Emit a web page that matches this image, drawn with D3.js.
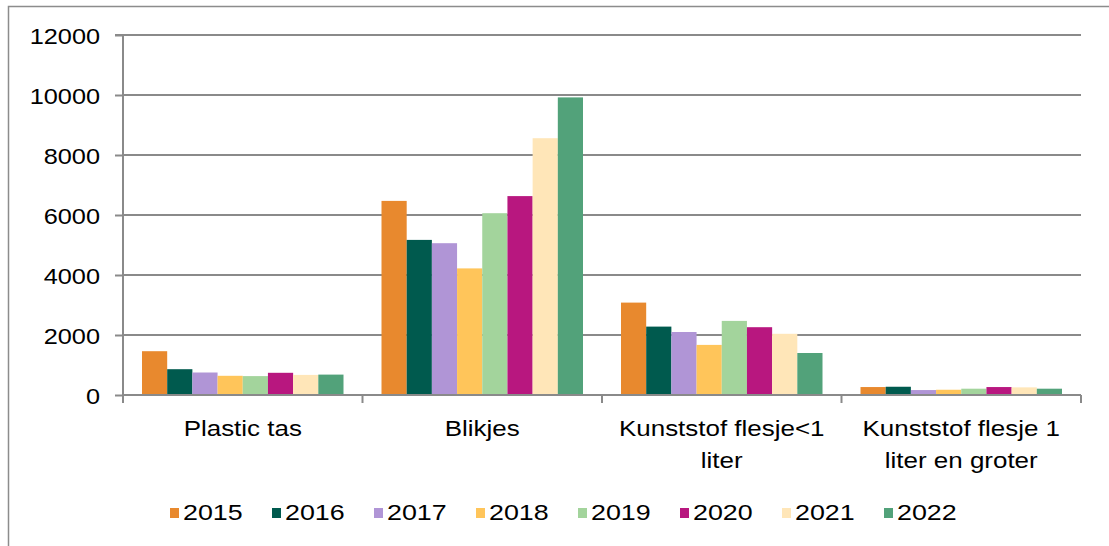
<!DOCTYPE html>
<html><head><meta charset="utf-8">
<script src="https://cdn.jsdelivr.net/npm/d3@7"></script>
<style>body{margin:0;background:#fff}svg{display:block}text{font-family:"Liberation Sans",Arial,sans-serif;fill:#000}</style>
</head><body><svg id="c" width="1109" height="546"></svg>
<script>
const categories = [["Plastic tas"], ["Blikjes"], ["Kunststof flesje<1", "liter"], ["Kunststof flesje 1", "liter en groter"]];
const years = ["2015","2016","2017","2018","2019","2020","2021","2022"];
const colors = ["#E8892E","#005A4E","#B095D6","#FFC55A","#A3D49C","#B8177F","#FFE6B8","#52A27A"];
const v2015 = [1460, 6470, 3080, 265];
const v2016 = [860, 5170, 2280, 275];
const v2017 = [750, 5060, 2100, 165];
const v2018 = [640, 4220, 1670, 175];
const v2019 = [630, 6060, 2470, 210];
const v2020 = [740, 6630, 2260, 265];
const v2021 = [670, 8560, 2040, 255];
const v2022 = [680, 9920, 1400, 210];
const series = [v2015, v2016, v2017, v2018, v2019, v2020, v2021, v2022];
const yTicks = [0, 2000, 4000, 6000, 8000, 10000, 12000];

const svg = d3.select("#c");
const L = 123, R = 1081, T = 35, B = 395;

svg.append("rect").attr("x", 8.5).attr("y", 6.5).attr("width", 1120).attr("height", 560)
  .attr("fill", "none").attr("stroke", "#8c8c8c").attr("stroke-width", 1.5);

const x0 = d3.scaleBand().domain(d3.range(categories.length)).range([L, R]);
const x1 = d3.scaleBand().domain(years).range([19, x0.bandwidth() - 19]);
const y = d3.scaleLinear().domain([0, 12000]).range([B, T]);

// gridlines
svg.append("g").selectAll("line").data(yTicks.slice(1)).join("line")
  .attr("x1", L).attr("x2", R).attr("y1", d => y(d)).attr("y2", d => y(d))
  .attr("stroke", "#8a8a8a").attr("stroke-width", 2);

// bars
years.forEach((yr, i) => {
  svg.append("g").selectAll("rect").data(series[i]).join("rect")
    .attr("x", (d, j) => x0(j) + x1(yr))
    .attr("width", x1.bandwidth())
    .attr("y", d => y(d))
    .attr("height", d => B - y(d))
    .attr("fill", colors[i]);
});

// y axis
const yAxis = d3.axisLeft(y).tickValues(yTicks).tickSize(8).tickPadding(18).tickFormat(d3.format("d"));
const ga = svg.append("g").attr("transform", `translate(${L},0)`).call(yAxis);
ga.select(".domain").attr("stroke", "#8a8a8a").attr("stroke-width", 2).attr("d", `M-8,${T}H0V${B}`);
ga.selectAll(".tick line").attr("stroke", "#8a8a8a").attr("stroke-width", 2);
ga.selectAll(".tick text").attr("font-size", 22).attr("fill", "#000")
  .attr("font-family", '"Liberation Sans",Arial,sans-serif')
  .attr("x", null).attr("dy", null).attr("dominant-baseline", "central")
  .attr("transform", `translate(-23,1) scale(1.15,1)`);

// x axis
const gx = svg.append("g");
gx.append("line").attr("x1", L).attr("x2", R).attr("y1", B).attr("y2", B).attr("stroke", "#8a8a8a").attr("stroke-width", 2);
const bounds = d3.range(categories.length + 1).map(i => i < categories.length ? x0(i) : x0(i - 1) + x0.bandwidth());
gx.selectAll("line.t").data(bounds).join("line").attr("class", "t")
  .attr("x1", d => d).attr("x2", d => d).attr("y1", B).attr("y2", B + 8)
  .attr("stroke", "#8a8a8a").attr("stroke-width", 2);

categories.forEach((lines, i) => {
  const cx = x0(i) + x0.bandwidth() / 2;
  lines.forEach((ln, k) => {
    svg.append("text").attr("transform", `translate(${cx},${436 + k * 32}) scale(1.18,1)`)
      .attr("text-anchor", "middle").attr("font-size", 22).text(ln);
  });
});

// legend
const lg = svg.append("g");
years.forEach((yr, i) => {
  const lx = 170 + i * 102;
  lg.append("rect").attr("x", lx).attr("y", 508).attr("width", 9).attr("height", 10).attr("fill", colors[i]);
  lg.append("text").attr("transform", `translate(${lx + 13},${520}) scale(1.22,1)`)
    .attr("font-size", 22).text(yr);
});
</script></body></html>
